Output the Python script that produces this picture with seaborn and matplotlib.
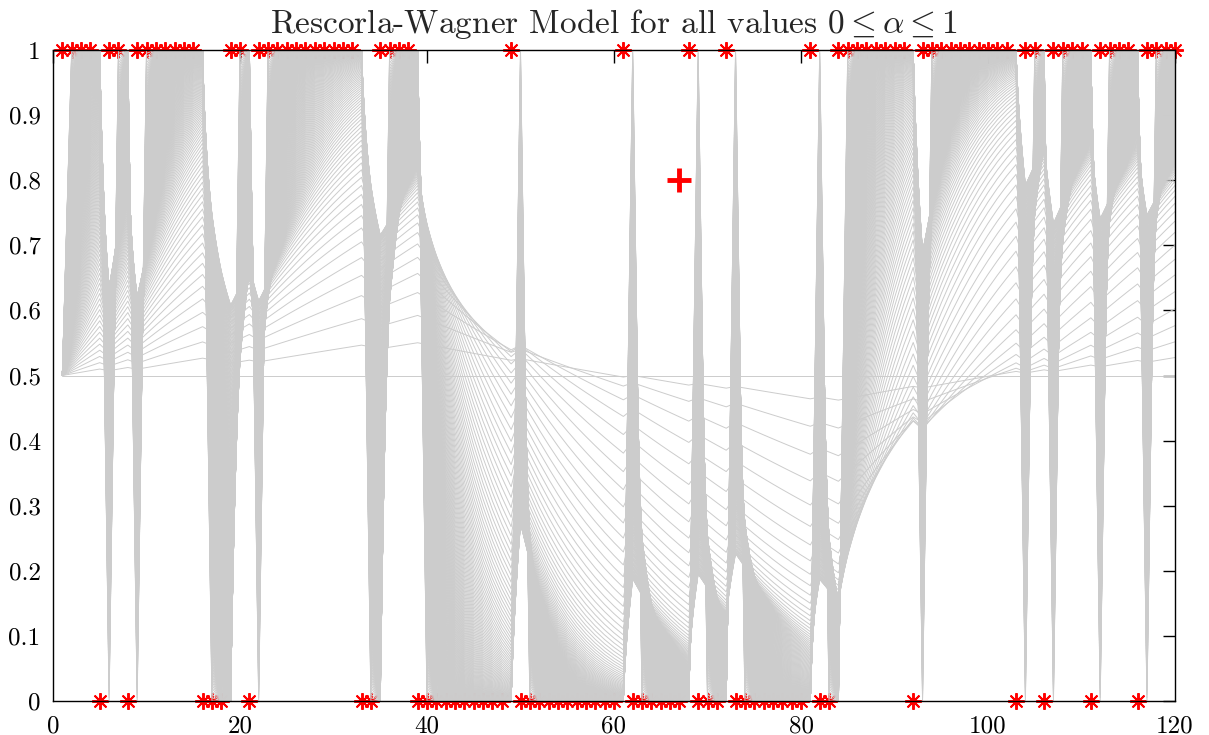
import numpy as np
import pandas as pd
import matplotlib
matplotlib.use("Agg")
import matplotlib.pyplot as plt
from matplotlib.ticker import FuncFormatter
import seaborn as sns

# Reward delivered on each trial (1 = reward, 0 = no reward)
rewards = [
    1, 1, 1, 1, 0, 1, 1, 0, 1, 1,
    1, 1, 1, 1, 1, 0, 0, 0, 1, 1,
    0, 1, 1, 1, 1, 1, 1, 1, 1, 1,
    1, 1, 0, 0, 1, 1, 1, 1, 0, 0,
    0, 0, 0, 0, 0, 0, 0, 0, 1, 0,
    0, 0, 0, 0, 0, 0, 0, 0, 0, 0,
    1, 0, 0, 0, 0, 0, 0, 1, 0, 0,
    0, 1, 0, 0, 0, 0, 0, 0, 0, 0,
    1, 0, 0, 1, 1, 1, 1, 1, 1, 1,
    1, 0, 1, 1, 1, 1, 1, 1, 1, 1,
    1, 1, 0, 1, 1, 0, 1, 1, 1, 1,
    0, 1, 1, 1, 1, 0, 1, 1, 1, 1,
]
trials = list(range(1, len(rewards) + 1))

# Learning rates swept from 0 to 1 in steps of 0.005
alphas = np.round(np.arange(0, 201) / 200, 3)
v_start = 0.5

# Highlighted point
mark_trial = 67
mark_value = 0.8

xticks = [0, 20, 40, 60, 80, 100, 120]
yticks = [0, 0.1, 0.2, 0.3, 0.4, 0.5, 0.6, 0.7, 0.8, 0.9, 1]

# Rescorla-Wagner: value held before each trial's update
rows = []
for a in alphas:
    v = v_start
    for t, r in zip(trials, rewards):
        rows.append((a, t, v))
        v = v + a * (r - v)
df = pd.DataFrame(rows, columns=["alpha", "trial", "V"])

sns.set_style("white")
plt.rcParams.update({
    "font.family": "serif",
    "font.serif": ["cmr10", "DejaVu Serif"],
    "mathtext.fontset": "cm",
    "axes.formatter.use_mathtext": True,
    "axes.unicode_minus": False,
})

W, H = 1209, 735
fig = plt.figure(figsize=(W / 100, H / 100), dpi=100)
left, right, top, bottom = 53, 1175, 50, 701
ax = fig.add_axes([left / W, 1 - bottom / H, (right - left) / W, (bottom - top) / H])

# reward markers sit underneath the value traces
stars, = ax.plot(trials, rewards, ls="none", marker=(8, 2, 0), color="red",
                 ms=12, mew=1.4, clip_on=False)
stars.set_zorder(0.5)

n_before = len(ax.lines)
sns.lineplot(data=df, x="trial", y="V", units="alpha", estimator=None,
             color=(0.8, 0.8, 0.8), lw=0.7, ax=ax, legend=False)
for ln in ax.lines[n_before:]:
    ln.set_zorder(2)

cross, = ax.plot([mark_trial], [mark_value], ls="none", marker="+", color="red",
                 ms=17, mew=3.5)
cross.set_zorder(5)

ax.set_xlim(0, 120)
ax.set_ylim(0, 1)
ax.set_xticks(xticks)
ax.set_yticks(yticks)
fmt = FuncFormatter(lambda v, p: f"{v:g}")
ax.xaxis.set_major_formatter(fmt)
ax.yaxis.set_major_formatter(fmt)
ax.tick_params(direction="in", top=True, right=True, length=9, width=1,
               labelsize=18, colors="black")
ax.tick_params(axis="x", pad=10)
ax.tick_params(axis="y", pad=9)
ax.set_xlabel("")
ax.set_ylabel("")
for s in ax.spines.values():
    s.set_color("black")
    s.set_linewidth(1)

ax.set_title(r"Rescorla-Wagner Model for all values $0 \leq \alpha \leq 1$",
             fontsize=24, pad=12)

fig.savefig("out.png", dpi=100, facecolor="white")
